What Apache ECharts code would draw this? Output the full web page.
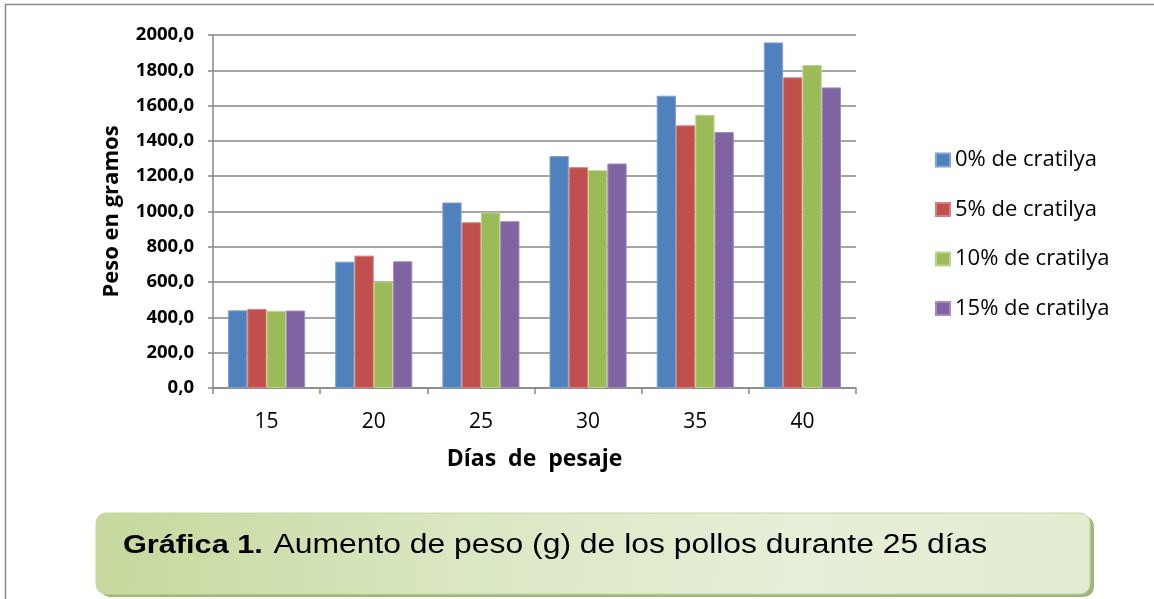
<!DOCTYPE html>
<html>
<head>
<meta charset="utf-8">
<script src="https://cdn.jsdelivr.net/npm/echarts@6/dist/echarts.min.js"></script>
<style>
  html, body { margin: 0; padding: 0; background: #fff; }
  #chart { width: 1154px; height: 599px; }
</style>
</head>
<body>
<div id="chart"></div>
<script>
// Weighing days (x categories)
const days = ['15', '20', '25', '30', '35', '40'];

// Series names
const seriesNames = ['0% de cratilya', '5% de cratilya', '10% de cratilya', '15% de cratilya'];

// Weight in grams per treatment
const pct0 = [440, 716, 1051, 1314, 1656, 1958];
const pct5 = [448, 750, 939, 1251, 1488, 1760];
const pct10 = [437, 603, 994, 1234, 1548, 1830];
const pct15 = [439, 718, 945, 1272, 1450, 1703];

// Y axis ticks
const yMin = 0, yMax = 2000, yStep = 200;

const seriesValues = [pct0, pct5, pct10, pct15];
const colors = ['#4F81BD', '#C0504D', '#9BBB59', '#8064A2'];
const edgeColors = ['#7FA3D3', '#D77F7C', '#BCD48A', '#A28CC0'];

const baseFont = '"Open Sans", Lato, sans-serif';
const gridColor = '#878787';

const chart = echarts.init(document.getElementById('chart'), null, { renderer: 'canvas' });

const option = {
  animation: false,
  backgroundColor: '#ffffff',
  grid: { left: 213, right: 298, top: 35, bottom: 211, containLabel: false },
  legend: {
    orient: 'vertical',
    left: 935,
    top: 149,
    padding: 0,
    itemWidth: 14,
    itemHeight: 13,
    itemGap: 27.5,
    icon: 'rect',
    textStyle: { fontFamily: baseFont, fontSize: 22, lineHeight: 22, color: '#000' },
    data: seriesNames
  },
  xAxis: {
    type: 'category',
    data: days,
    name: 'Días  de  pesaje',
    nameLocation: 'middle',
    nameGap: 60,
    nameTextStyle: { fontFamily: baseFont, fontSize: 23, fontWeight: 'bold', color: '#000' },
    axisLine: { lineStyle: { color: gridColor, width: 1.5 } },
    axisTick: { show: true, alignWithLabel: false, length: 6, lineStyle: { color: gridColor, width: 1.5 } },
    axisLabel: { fontFamily: baseFont, fontSize: 21, color: '#000', margin: 24 }
  },
  yAxis: {
    type: 'value',
    min: yMin,
    max: yMax,
    interval: yStep,
    name: 'Peso en gramos',
    nameLocation: 'middle',
    nameGap: 90,
    nameTextStyle: { fontFamily: baseFont, fontSize: 22, fontWeight: 'bold', color: '#000' },
    axisLine: { show: true, lineStyle: { color: gridColor, width: 1.5 } },
    axisTick: { show: true, length: 5, lineStyle: { color: gridColor, width: 1.5 } },
    axisLabel: {
      fontFamily: baseFont, fontSize: 18.5, fontWeight: 'bold', color: '#000', margin: 19,
      formatter: v => v.toFixed(1).replace('.', ',')
    },
    splitLine: { show: true, lineStyle: { color: gridColor, width: 1.5 } }
  },
  series: seriesNames.map((name, i) => ({
    name,
    type: 'bar',
    data: seriesValues[i],
    barGap: '0%',
    barCategoryGap: '28%',
    itemStyle: { color: colors[i], borderColor: edgeColors[i], borderWidth: 1 }
  })),
  graphic: [
    // outer frame: top and left edges
    {
      type: 'polyline',
      silent: true,
      shape: { points: [[5.5, 599], [5.5, 4.5], [1154, 4.5]] },
      style: { stroke: '#8a8a8a', lineWidth: 1.5, fill: null }
    },
    // caption box shadow
    {
      type: 'rect',
      silent: true,
      shape: { x: 100, y: 516, width: 994, height: 81, r: 10 },
      style: { fill: '#a3b57a' }
    },
    // caption box
    {
      type: 'rect',
      silent: true,
      shape: { x: 96, y: 513, width: 994, height: 81, r: 10 },
      style: {
        fill: new echarts.graphic.LinearGradient(0, 0.2, 1, 0.8, [
          { offset: 0, color: '#c5d89c' },
          { offset: 0.35, color: '#d9e6c1' },
          { offset: 0.7, color: '#e6efd7' },
          { offset: 1, color: '#e2ecd1' }
        ]),
        stroke: '#c6d9a0',
        lineWidth: 1
      }
    },
    // caption text (Arial-like face, slightly widened)
    {
      type: 'text',
      silent: true,
      x: 123,
      y: 546,
      scaleX: 1.18,
      scaleY: 1,
      style: {
        text: '{b|Gráfica 1.}{r|Aumento de peso (g) de los pollos durante 25 días}',
        verticalAlign: 'middle',
        align: 'left',
        rich: {
          b: { fontFamily: '"Liberation Sans", Arial, sans-serif', fontSize: 26, fontWeight: 'bold', fill: '#000' },
          r: { fontFamily: '"Liberation Sans", Arial, sans-serif', fontSize: 27, fill: '#000', padding: [0, 0, 0, 9] }
        }
      }
    }
  ]
};

chart.setOption(option);
</script>
</body>
</html>
